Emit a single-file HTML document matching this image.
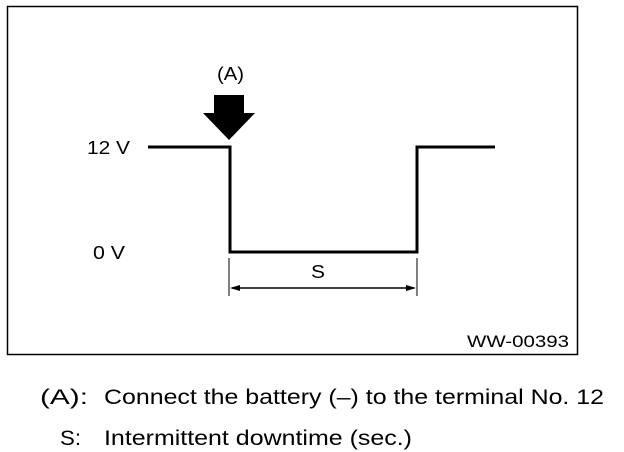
<!DOCTYPE html>
<html><head><meta charset="utf-8"><style>
body{margin:0;width:624px;height:452px;background:#fff;overflow:hidden}
svg{display:block}
text{font-family:"Liberation Sans",Arial,sans-serif;fill:#000}
</style></head><body>
<svg width="624" height="452" viewBox="0 0 624 452">
<rect x="7.5" y="6.5" width="570" height="348" fill="none" stroke="#000" stroke-width="1.5"/>
<polyline points="148,147 230,147 230,252 417,252 417,147 495,147" fill="none" stroke="#000" stroke-width="3"/>
<polygon points="214,95 244,95 244,113 255,113 229,140 203,113 214,113" fill="#000"/>
<line x1="229" y1="258" x2="229" y2="296" stroke="#000" stroke-width="1"/>
<line x1="417" y1="258" x2="417" y2="296" stroke="#000" stroke-width="1"/>
<line x1="232" y1="288" x2="414" y2="288" stroke="#000" stroke-width="1.5"/>
<polygon points="230,288 240,285 240,291" fill="#000"/>
<polygon points="416,288 406,285 406,291" fill="#000"/>
<text x="87" y="154" font-size="18" textLength="43" lengthAdjust="spacingAndGlyphs">12 V</text>
<text x="93" y="259" font-size="18" textLength="32" lengthAdjust="spacingAndGlyphs">0 V</text>
<text x="217" y="80" font-size="18" textLength="27" lengthAdjust="spacingAndGlyphs">(A)</text>
<text x="311" y="278" font-size="18" textLength="14" lengthAdjust="spacingAndGlyphs">S</text>
<text x="467" y="347" font-size="17" textLength="102" lengthAdjust="spacingAndGlyphs">WW-00393</text>
<text x="40" y="404" font-size="21" textLength="48" lengthAdjust="spacingAndGlyphs">(A):</text>
<text x="104" y="404" font-size="21" textLength="500" lengthAdjust="spacingAndGlyphs">Connect the battery (–) to the terminal No. 12</text>
<text x="60" y="445" font-size="21" textLength="21" lengthAdjust="spacingAndGlyphs">S:</text>
<text x="104" y="445" font-size="21" textLength="308" lengthAdjust="spacingAndGlyphs">Intermittent downtime (sec.)</text>
</svg>
</body></html>
